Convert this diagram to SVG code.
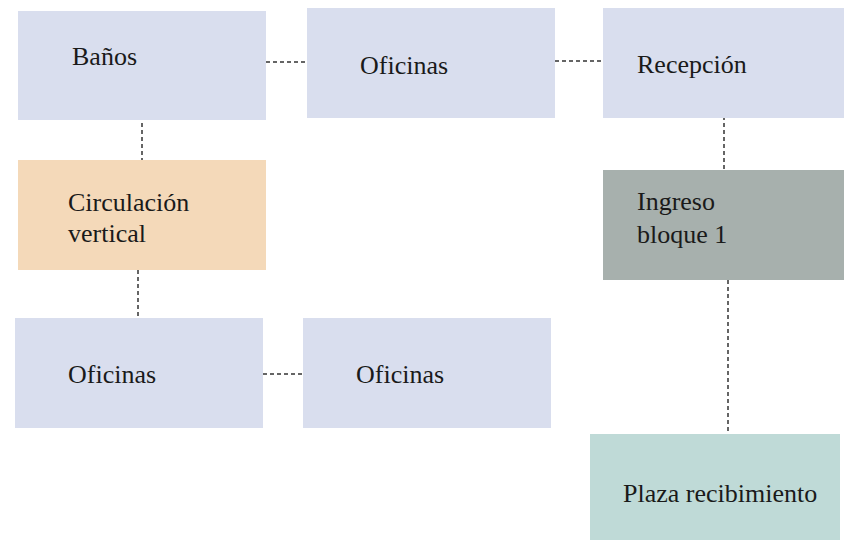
<svg xmlns="http://www.w3.org/2000/svg" width="844" height="540" viewBox="0 0 844 540">
<style>
.blue{fill:#D9DEEE}
.orange{fill:#F4D9B9}
.gray{fill:#A7B0AD}
.teal{fill:#BFDAD7}
.t{font-family:'Liberation Serif','Tinos','DejaVu Serif',serif;font-size:26px;fill:#1a1a1a}
.c line{stroke:#333;stroke-width:1.5;stroke-dasharray:4 3;fill:none}
</style>
<rect width="844" height="540" fill="#fff"/>
<g class="c" id="connectors">
<line x1="266" y1="62" x2="307" y2="62"/>
<line x1="555" y1="61" x2="603" y2="61"/>
<line x1="142" y1="116" x2="142" y2="162"/>
<line x1="138" y1="270" x2="138" y2="322"/>
<line x1="724" y1="116" x2="724" y2="172"/>
<line x1="728" y1="280" x2="728" y2="440"/>
<line x1="263" y1="374" x2="303" y2="374"/>
</g>
<g class="t" font-family="Liberation Serif, serif">
<g id="banos"><rect class="blue" x="18" y="11" width="248" height="109"/><text x="72" y="65">Baños</text></g>
<g id="oficinas1"><rect class="blue" x="307" y="8" width="248" height="110"/><text x="360" y="74">Oficinas</text></g>
<g id="recepcion"><rect class="blue" x="603" y="8" width="241" height="110"/><text x="637" y="73">Recepción</text></g>
<g id="circulacion"><rect class="orange" x="18" y="160" width="248" height="110"/><text x="68" y="211">Circulación</text><text x="68" y="242">vertical</text></g>
<g id="ingreso"><rect class="gray" x="603" y="170" width="241" height="110"/><text x="637" y="210">Ingreso</text><text x="637" y="243">bloque 1</text></g>
<g id="oficinas2"><rect class="blue" x="15" y="318" width="248" height="110"/><text x="68" y="383">Oficinas</text></g>
<g id="oficinas3"><rect class="blue" x="303" y="318" width="248" height="110"/><text x="356" y="383">Oficinas</text></g>
<g id="plaza"><rect class="teal" x="590" y="434" width="250" height="106"/><text x="623" y="502">Plaza recibimiento</text></g>
</g>
</svg>
